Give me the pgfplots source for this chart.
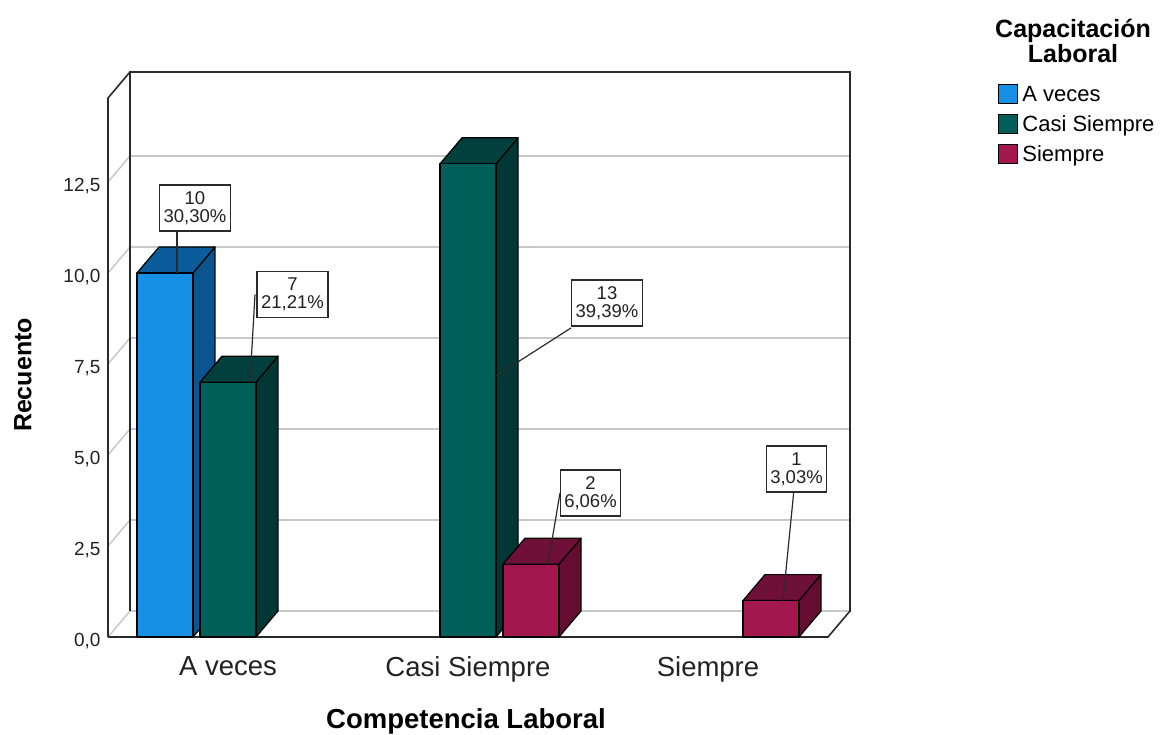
\documentclass[border=0pt]{standalone}
\usepackage{fontspec}
\setmainfont{Liberation Sans}
\usepackage{pgfplots}
\pgfplotsset{compat=1.18}

\definecolor{blueF}{HTML}{1690E4}
\definecolor{blueT}{HTML}{0B5C9A}
\definecolor{blueS}{HTML}{0A5590}
\definecolor{tealF}{HTML}{02605A}
\definecolor{tealT}{HTML}{02403D}
\definecolor{tealS}{HTML}{013836}
\definecolor{magF}{HTML}{A3174F}
\definecolor{magT}{HTML}{6E1037}
\definecolor{magS}{HTML}{640D31}
\definecolor{gridc}{HTML}{C8C8C8}
\definecolor{framec}{HTML}{2A2A2A}
\definecolor{textc}{HTML}{222222}

% geometry of the 3-D bars (axis units)
\def\bdx{0.091667}  % depth, horizontal
\def\bdy{0.714}     % depth, vertical
\def\bw{0.233333}   % bar width
\def\bslot{0.2625}  % distance between the three series inside a category
\def\walltop{14.808}

% one 3-D bar: category, slot (-1,0,1), value, front colour, shade colours
\newcommand{\barthreed}[6]{%
  \pgfmathsetmacro{\xl}{#1+(#2)*\bslot-\bw/2}%
  \pgfmathsetmacro{\xr}{\xl+\bw}%
  \pgfmathsetmacro{\xld}{\xl+\bdx}%
  \pgfmathsetmacro{\xrd}{\xr+\bdx}%
  \pgfmathsetmacro{\yt}{#3}%
  \pgfmathsetmacro{\ytd}{#3+\bdy}%
  \addplot[fill=#6, draw=black, line width=1.2pt, line join=round, forget plot]
    coordinates {(\xr,0) (\xrd,\bdy) (\xrd,\ytd) (\xr,\yt) (\xr,0)};
  \addplot[fill=#5, draw=black, line width=1.2pt, line join=round, forget plot]
    coordinates {(\xl,\yt) (\xld,\ytd) (\xrd,\ytd) (\xr,\yt) (\xl,\yt)};
  \addplot[fill=#4, draw=black, line width=1.2pt, line join=round, forget plot]
    coordinates {(\xl,0) (\xr,0) (\xr,\yt) (\xl,\yt) (\xl,0)};
}

\tikzset{vallabel/.style={draw=framec, fill=white, line width=1.4pt, align=center,
    inner xsep=4pt, inner ysep=6.5pt, text=textc,
    font=\fontsize{18.5}{18}\selectfont}}

\begin{document}
\begin{tikzpicture}
\useasboundingbox (0,0) rectangle (1168pt,735pt);
\begin{axis}[
  at={(108pt,98pt)}, anchor=south west,
  scale only axis, width=742pt, height=565pt,
  xmin=-0.5, xmax=2.591667, ymin=0, ymax=15.522,
  clip=false,
  axis line style={draw=none},
  major tick length=0pt,
  xtick={0,1,2},
  xticklabels={A veces, Casi Siempre, Siempre},
  ytick={0,2.5,5,7.5,10,12.5},
  /pgf/number format/assume math mode=true,
  yticklabel={\pgfmathprintnumber[fixed, fixed zerofill, precision=1, use comma]{\tick}},
  yticklabel style={font=\fontsize{19}{22}\selectfont, text=textc, xshift=-4pt, yshift=-4pt},
  xticklabel style={font=\fontsize{27.5}{30}\selectfont, text=textc, yshift=-16pt},
  xlabel={Competencia Laboral},
  ylabel={Recuento},
  every axis x label/.style={at={(axis description cs:0.4825,0)}, anchor=center,
    yshift=-84pt, font=\fontsize{27.5}{30}\selectfont\bfseries},
  every axis y label/.style={at={(axis description cs:-0.1146,0.4637)}, anchor=center,
    rotate=90, font=\fontsize{25}{30}\selectfont\bfseries},
  legend style={at={(axis description cs:1.1995,0.979)}, anchor=north west,
    draw=none, fill=none, inner sep=0pt, row sep=8.5pt, column sep=2pt,
    font=\fontsize{22}{26}\selectfont},
  legend cell align=left,
  legend image code/.code={\draw[#1, line width=1.2pt] (0pt,-9pt) rectangle (19pt,10pt);},
]
% back wall, side wall and floor
\draw[framec, line width=1.6pt] (axis cs:-0.408333,\bdy) rectangle (axis cs:2.591667,15.522);
\pgfplotsinvokeforeach{2.5,5,7.5,10,12.5}{
  \draw[gridc, line width=1.5pt] (axis cs:-0.408333,#1+\bdy) -- (axis cs:2.591667,#1+\bdy);
  \draw[gridc, line width=1.5pt] (axis cs:-0.5,#1) -- (axis cs:-0.408333,#1+\bdy);
}
\draw[gridc, line width=1.5pt] (axis cs:-0.408333,\bdy) -- (axis cs:2.591667,\bdy);
\draw[gridc, line width=1.5pt] (axis cs:-0.5,0) -- (axis cs:-0.408333,\bdy);
\draw[framec, line width=1.6pt] (axis cs:-0.408333,\bdy) -- (axis cs:-0.408333,15.522);
\draw[framec, line width=1.6pt] (axis cs:-0.5,0) -- (axis cs:-0.5,\walltop) -- (axis cs:-0.408333,15.522);
\draw[framec, line width=1.6pt] (axis cs:-0.5,0) -- (axis cs:2.5,0) -- (axis cs:2.591667,\bdy) -- (axis cs:2.591667,15.522);

% legend
\addlegendimage{fill=blueF, draw=black}
\addlegendentry{A veces}
\addlegendimage{fill=tealF, draw=black}
\addlegendentry{Casi Siempre}
\addlegendimage{fill=magF, draw=black}
\addlegendentry{Siempre}

% counts: Capacitación Laboral within Competencia Laboral
\barthreed{0}{-1}{10}{blueF}{blueT}{blueS}   % A veces / A veces
\barthreed{0}{0}{7}{tealF}{tealT}{tealS}     % A veces / Casi Siempre
\barthreed{1}{0}{13}{tealF}{tealT}{tealS}    % Casi Siempre / Casi Siempre
\barthreed{1}{1}{2}{magF}{magT}{magS}        % Casi Siempre / Siempre
\barthreed{2}{1}{1}{magF}{magT}{magS}        % Siempre / Siempre

% value labels with leader lines
\draw[framec, line width=1.2pt] (axis cs:-0.2125,11.786) -- (axis cs:-0.2125,10);
\draw[framec, line width=1.2pt] (axis cs:0.1125,9.409) -- (axis cs:0.0917,7);
\draw[framec, line width=1.2pt] (axis cs:1.4292,8.49) -- (axis cs:1.1167,7.17);
\draw[framec, line width=1.2pt] (axis cs:1.3833,3.956) -- (axis cs:1.3333,2);
\draw[framec, line width=1.2pt] (axis cs:2.3667,4.615) -- (axis cs:2.3125,1);
\node[vallabel] at (axis cs:-0.1375,11.786) {10\\30,30\%};
\node[vallabel] at (axis cs:0.26875,9.409) {7\\21,21\%};
\node[vallabel] at (axis cs:1.5792,9.176) {13\\39,39\%};
\node[vallabel] at (axis cs:1.5104,3.956) {2\\6,06\%};
\node[vallabel] at (axis cs:2.3688,4.615) {1\\3,03\%};
\end{axis}
\node[align=center, text=black, font=\fontsize{25}{23}\selectfont\bfseries]
  at (1073pt,694pt) {Capacitación\\Laboral};
\end{tikzpicture}
\end{document}
